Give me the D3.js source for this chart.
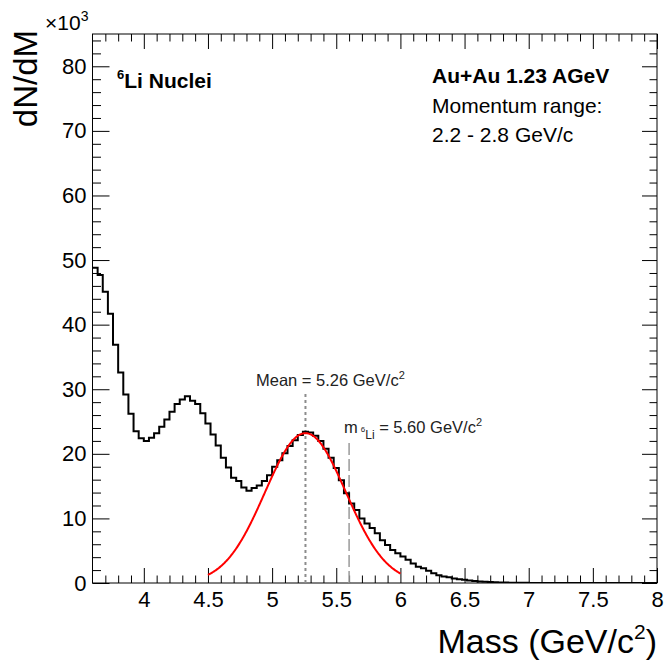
<!DOCTYPE html>
<html>
<head>
<meta charset="utf-8">
<script src="https://cdn.jsdelivr.net/npm/d3@7"></script>
<style>
  body { margin: 0; background: #fff; }
  text { font-family: "Liberation Sans", Arial, Helvetica, sans-serif; }
</style>
</head>
<body>
<svg id="chart" width="667" height="666"></svg>
<script>
// Histogram binning (GeV/c^2)
const binLow = 3.6;
const binWidth = 0.04;

// dN/dM per bin, in units of 10^3
const counts = [
  48.8, 47.7, 45.1, 41.7, 36.9, 32.6, 29.2, 26.2, 23.5, 22.4,
  22.0, 22.5, 23.2, 24.2, 25.3, 26.5, 27.7, 28.4, 28.9, 28.2,
  27.7, 26.3, 24.7, 23.0, 21.3, 19.4, 17.9, 16.3, 15.8, 14.8,
  14.3, 14.7, 15.1, 15.8, 16.7, 18.0, 19.0, 20.1, 21.2, 22.1,
  22.9, 23.4, 23.3, 22.8, 22.0, 20.8, 19.4, 17.8, 15.9, 13.9,
  12.3, 11.3, 10.0, 9.2, 8.5, 7.7, 6.6, 5.9, 5.1, 4.6,
  4.1, 3.6, 3.0, 2.5, 2.3, 1.9, 1.5, 1.2, 1.0, 0.9,
  0.7, 0.6, 0.5, 0.4, 0.3, 0.25, 0.2, 0.15, 0.1, 0.08,
  0.06, 0.05, 0.04, 0.03, 0.02, 0.01, 0, 0, 0, 0,
  0, 0, 0, 0, 0, 0, 0, 0, 0, 0,
  0, 0, 0, 0, 0, 0, 0, 0, 0, 0
];

// Axis ticks
const xTicks = [4, 4.5, 5, 5.5, 6, 6.5, 7, 7.5, 8];
const xTickLabels = ["4", "4.5", "5", "5.5", "6", "6.5", "7", "7.5", "8"];
const yTicks = [0, 10, 20, 30, 40, 50, 60, 70, 80];
const yTickLabels = ["0", "10", "20", "30", "40", "50", "60", "70", "80"];

// Gaussian fit and reference mass
const fitMean = 5.26;
const fitSigma = 0.315;
const fitAmp = 23.2;
const fitRange = [4.5, 6.0];
const massLi6 = 5.60;
const meanLineTop = 29.6;
const massLineTop = 21.8;

const svg = d3.select("#chart");
const frame = { left: 92.5, right: 657, top: 34, bottom: 583 };

const x = d3.scaleLinear().domain([3.6, 8]).range([frame.left, frame.right]);
const y = d3.scaleLinear().domain([0, 85]).range([frame.bottom, frame.top]);

const xMinor = d3.range(37, 80).map(v => v / 10).filter(v => Math.abs(v * 2 - Math.round(v * 2)) > 1e-6);
const yMinor = d3.range(0, 86, 2).filter(v => v % 10 !== 0);

function styleAxis(g) {
  g.select(".domain").remove();
  g.selectAll(".tick line").attr("stroke", "#000").attr("stroke-width", 1);
  g.selectAll(".tick text").attr("fill", "#000").attr("font-size", 22)
    .style("font-family", '"Liberation Sans", Arial, sans-serif');
}

// Bottom axis
svg.append("g").attr("transform", `translate(0,${frame.bottom})`)
  .call(d3.axisBottom(x).tickValues(xTicks).tickFormat((d, i) => xTickLabels[i]).tickSize(-15).tickPadding(8))
  .call(styleAxis);
svg.append("g").attr("transform", `translate(0,${frame.bottom})`)
  .call(d3.axisBottom(x).tickValues(xMinor).tickFormat("").tickSize(-7.5))
  .call(styleAxis);
// Top axis
svg.append("g").attr("transform", `translate(0,${frame.top})`)
  .call(d3.axisTop(x).tickValues(xTicks).tickFormat("").tickSize(-15))
  .call(styleAxis);
svg.append("g").attr("transform", `translate(0,${frame.top})`)
  .call(d3.axisTop(x).tickValues(xMinor).tickFormat("").tickSize(-7.5))
  .call(styleAxis);
// Left axis
svg.append("g").attr("transform", `translate(${frame.left},0)`)
  .call(d3.axisLeft(y).tickValues(yTicks).tickFormat((d, i) => yTickLabels[i]).tickSize(-17).tickPadding(6))
  .call(styleAxis);
svg.append("g").attr("transform", `translate(${frame.left},0)`)
  .call(d3.axisLeft(y).tickValues(yMinor).tickFormat("").tickSize(-8.5))
  .call(styleAxis);
// Right axis
svg.append("g").attr("transform", `translate(${frame.right},0)`)
  .call(d3.axisRight(y).tickValues(yTicks).tickFormat("").tickSize(-15))
  .call(styleAxis);
svg.append("g").attr("transform", `translate(${frame.right},0)`)
  .call(d3.axisRight(y).tickValues(yMinor).tickFormat("").tickSize(-7.5))
  .call(styleAxis);

// Frame
svg.append("rect")
  .attr("x", frame.left).attr("y", frame.top)
  .attr("width", frame.right - frame.left).attr("height", frame.bottom - frame.top)
  .attr("fill", "none").attr("stroke", "#000").attr("stroke-width", 1);

svg.append("clipPath").attr("id", "plotArea").append("rect")
  .attr("x", frame.left).attr("y", frame.top - 2)
  .attr("width", frame.right - frame.left).attr("height", frame.bottom - frame.top + 2);

const plot = svg.append("g").attr("clip-path", "url(#plotArea)");

// Reference lines: fitted mean (dotted) and nominal 6Li mass (dashed)
plot.append("line")
  .attr("x1", x(fitMean)).attr("x2", x(fitMean))
  .attr("y1", y(0)).attr("y2", y(meanLineTop))
  .attr("stroke", "#8c8c8c").attr("stroke-width", 2).attr("stroke-dasharray", "3,3");
plot.append("line")
  .attr("x1", x(massLi6)).attr("x2", x(massLi6))
  .attr("y1", y(0)).attr("y2", y(massLineTop))
  .attr("stroke", "#9a9a9a").attr("stroke-width", 1.5).attr("stroke-dasharray", "12,4");

// Histogram outline
const stepPts = [];
counts.forEach((c, i) => {
  const x0 = binLow + i * binWidth;
  stepPts.push([x0, c], [x0 + binWidth, c]);
});
plot.append("path")
  .attr("d", d3.line().x(d => x(d[0])).y(d => y(d[1]))(stepPts))
  .attr("fill", "none").attr("stroke", "#000").attr("stroke-width", 2)
  .attr("stroke-linejoin", "miter");

// Gaussian fit
const gauss = m => fitAmp * Math.exp(-0.5 * Math.pow((m - fitMean) / fitSigma, 2));
const fitPts = d3.range(fitRange[0], fitRange[1] + 1e-9, 0.005).map(m => [m, gauss(m)]);
plot.append("path")
  .attr("d", d3.line().x(d => x(d[0])).y(d => y(d[1]))(fitPts))
  .attr("fill", "none").attr("stroke", "#ff0000").attr("stroke-width", 2);

// Axis titles
svg.append("text")
  .attr("transform", "translate(37,30) rotate(-90)")
  .attr("text-anchor", "end").attr("font-size", 33).attr("fill", "#000")
  .text("dN/dM");

const xTitle = svg.append("text")
  .attr("x", frame.right).attr("y", 653)
  .attr("text-anchor", "end").attr("font-size", 34).attr("fill", "#000");
xTitle.append("tspan").text("Mass (GeV/c");
xTitle.append("tspan").attr("font-size", 21).attr("dy", -14).text("2");
xTitle.append("tspan").attr("dy", 14).text(")");

// Exponent marker
const expo = svg.append("text").attr("x", 45).attr("y", 30).attr("font-size", 21).attr("fill", "#000");
expo.append("tspan").text("×10");
expo.append("tspan").attr("font-size", 14).attr("dy", -9).text("3");

// Legend text, top left
const species = svg.append("text").attr("x", 117).attr("y", 88)
  .attr("font-size", 21).attr("font-weight", "bold").attr("fill", "#000");
species.append("tspan").attr("font-size", 13).attr("dy", -9).text("6");
species.append("tspan").attr("dy", 9).text("Li Nuclei");

// Legend text, top right
svg.append("text").attr("x", 432).attr("y", 83)
  .attr("font-size", 21).attr("font-weight", "bold").attr("fill", "#000")
  .text("Au+Au 1.23 AGeV");
svg.append("text").attr("x", 432).attr("y", 113)
  .attr("font-size", 21).attr("fill", "#000")
  .text("Momentum range:");
svg.append("text").attr("x", 432).attr("y", 142)
  .attr("font-size", 21).attr("fill", "#000")
  .text("2.2 - 2.8 GeV/c");

// Line annotations
const meanLabel = svg.append("text").attr("x", 256).attr("y", 386)
  .attr("font-size", 16.5).attr("fill", "#222");
meanLabel.append("tspan").text(`Mean = ${fitMean.toFixed(2)} GeV/c`);
meanLabel.append("tspan").attr("font-size", 11).attr("dy", -7).text("2");

const massLabel = svg.append("text").attr("x", 344).attr("y", 433)
  .attr("font-size", 16.5).attr("fill", "#222");
massLabel.append("tspan").text("m");
massLabel.append("tspan").attr("font-size", 8).attr("dx", 3).attr("dy", -1).text("6");
massLabel.append("tspan").attr("font-size", 12).attr("dy", 7).text("Li");
massLabel.append("tspan").attr("dy", -6).text(` = ${massLi6.toFixed(2)} GeV/c`);
massLabel.append("tspan").attr("font-size", 11).attr("dy", -7).text("2");
</script>
</body>
</html>
